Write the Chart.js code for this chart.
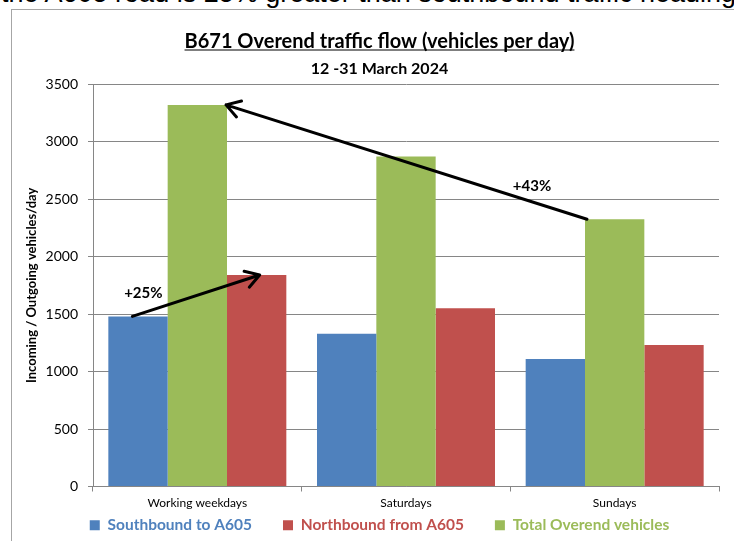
<!DOCTYPE html>
<html>
<head>
<meta charset="utf-8">
<script src="https://cdn.jsdelivr.net/npm/chart.js@4.4.1/dist/chart.umd.min.js"></script>
<style>
  html, body { margin: 0; padding: 0; background: #fff; overflow: hidden; }
  body { width: 734px; height: 541px; position: relative; }
  #above {
    position: absolute; left: 1px; top: -20px; white-space: nowrap;
    font-family: "Liberation Sans", Arial, sans-serif; font-size: 27px; line-height: 27px; color: #000;
  }
  #frame {
    position: absolute; left: 11px; top: 9px; width: 740px; height: 560px;
    border: 1px solid #a6a6a6;
  }
  #box { position: absolute; left: 12px; top: 10px; width: 722px; height: 531px; }
</style>
</head>
<body>
<div id="above">the A605 road is 25% greater than southbound traffic heading</div>
<div id="frame"></div>
<div id="box"><canvas id="chart"></canvas></div>
<script>
const categories = ['Working weekdays', 'Saturdays', 'Sundays'];
const southbound = [1480, 1330, 1110];
const northbound = [1840, 1550, 1230];
const totalOverend = [3320, 2870, 2325];
const yTicks = [0, 500, 1000, 1500, 2000, 2500, 3000, 3500];

const blue = '#4F81BD', red = '#C0504D', green = '#9BBB59';
const legendOrder = [0, 2, 1];
const FONT = 'Lato, "Open Sans", sans-serif';

// arrows and % notes, placed on the bars they join
const notes = {
  id: 'notes',
  afterDatasetsDraw(chart) {
    const c = chart.ctx;
    const s = chart.getDatasetMeta(0).data, t = chart.getDatasetMeta(1).data, n = chart.getDatasetMeta(2).data;
    const arrow = (x1, y1, x2, y2) => {
      const a = Math.atan2(y2 - y1, x2 - x1), L = 16, sp = 0.55;
      c.beginPath();
      c.moveTo(x1, y1); c.lineTo(x2, y2);
      c.moveTo(x2 - L * Math.cos(a - sp), y2 - L * Math.sin(a - sp));
      c.lineTo(x2, y2);
      c.lineTo(x2 - L * Math.cos(a + sp), y2 - L * Math.sin(a + sp));
      c.stroke();
    };
    c.save();
    c.strokeStyle = '#000';
    c.lineWidth = 3;
    c.lineCap = 'round';
    c.lineJoin = 'round';
    const t1 = { x: s[0].x - s[0].width / 2 + 24, y: s[0].y };
    const h1 = { x: n[0].x + 3, y: n[0].y };
    arrow(t1.x, t1.y, h1.x, h1.y);
    const t2 = { x: t[2].x - t[2].width / 2 + 2, y: t[2].y };
    const h2 = { x: t[0].x + t[0].width / 2 - 1, y: t[0].y };
    arrow(t2.x, t2.y, h2.x, h2.y);
    c.fillStyle = '#000';
    c.font = 'bold 15px ' + FONT;
    c.textAlign = 'center';
    c.textBaseline = 'middle';
    c.fillText('+25%', t1.x + 11, t1.y - 23);
    const lx = t2.x - 55;
    const ly = t2.y + (lx - t2.x) * (h2.y - t2.y) / (h2.x - t2.x);
    c.fillText('+43%', lx, ly - 16);
    c.restore();
  },
  afterDraw(chart) {
    const tb = chart.titleBlock;
    if (!tb) return;
    const c = chart.ctx;
    c.save();
    c.font = 'bold 20px ' + FONT;
    const w = c.measureText(chart.options.plugins.title.text).width;
    const cx = tb.left + tb.width / 2;
    const y = tb.top + tb.options.padding.top + 20;
    c.strokeStyle = '#000';
    c.lineWidth = 1.2;
    c.beginPath();
    c.moveTo(cx - w / 2, y); c.lineTo(cx + w / 2, y);
    c.stroke();
    c.restore();
  }
};

new Chart(document.getElementById('chart'), {
  type: 'bar',
  data: {
    labels: categories,
    datasets: [
      { label: 'Southbound to A605', data: southbound, backgroundColor: blue },
      { label: 'Total Overend vehicles', data: totalOverend, backgroundColor: green },
      { label: 'Northbound from A605', data: northbound, backgroundColor: red }
    ]
  },
  options: {
    responsive: true,
    maintainAspectRatio: false,
    animation: false,
    layout: { padding: { left: 28, right: 15, top: 0, bottom: -2 } },
    datasets: { bar: { categoryPercentage: 0.853, barPercentage: 1 } },
    scales: {
      x: {
        // labels sit in the legend's empty top padding, so don't clip them to the axis box
        afterFit(s) { s.height = 0; s._computeLabelArea = () => undefined; },
        grid: { offset: true, drawOnChartArea: false, drawTicks: true, tickLength: 5, color: '#868686' },
        border: { color: '#868686' },
        ticks: { color: '#000', font: { family: FONT, size: 12 }, padding: 4,
                 maxRotation: 0, minRotation: 0, autoSkip: false }
      },
      y: {
        min: 0, max: 3500,
        afterBuildTicks(s) { s.ticks = yTicks.map(v => ({ value: v })); },
        afterFit(s) { s.width = 53; },
        grid: { color: '#868686', tickLength: 5 },
        border: { color: '#868686' },
        ticks: { color: '#000', font: { family: FONT, size: 14 }, padding: 10, callback: v => String(v) },
        title: { display: true, text: 'Incoming / Outgoing vehicles/day', color: '#000',
                 font: { family: FONT, size: 13, weight: 'bold' }, padding: { top: -16, bottom: 0 } }
      }
    },
    plugins: {
      title: {
        display: true, text: 'B671 Overend traffic flow (vehicles per day)', color: '#000',
        font: { family: FONT, size: 20, weight: 'bold' }, padding: { top: 20, bottom: 3 }
      },
      subtitle: {
        display: true, text: '12 -31 March 2024', color: '#000',
        font: { family: FONT, size: 16, weight: 'bold' }, padding: { top: 2, bottom: 6 }
      },
      legend: {
        position: 'bottom',
        labels: {
          boxWidth: 10, boxHeight: 10, padding: 31,
          font: { family: FONT, size: 15.5, weight: 'bold' },
          sort: (a, b) => legendOrder.indexOf(a.datasetIndex) - legendOrder.indexOf(b.datasetIndex),
          generateLabels(chart) {
            return Chart.defaults.plugins.legend.labels.generateLabels(chart).map(l => {
              l.fontColor = l.fillStyle;
              l.strokeStyle = l.fillStyle;
              l.lineWidth = 0;
              return l;
            });
          }
        }
      },
      tooltip: { enabled: false }
    }
  },
  plugins: [notes]
});
</script>
</body>
</html>
